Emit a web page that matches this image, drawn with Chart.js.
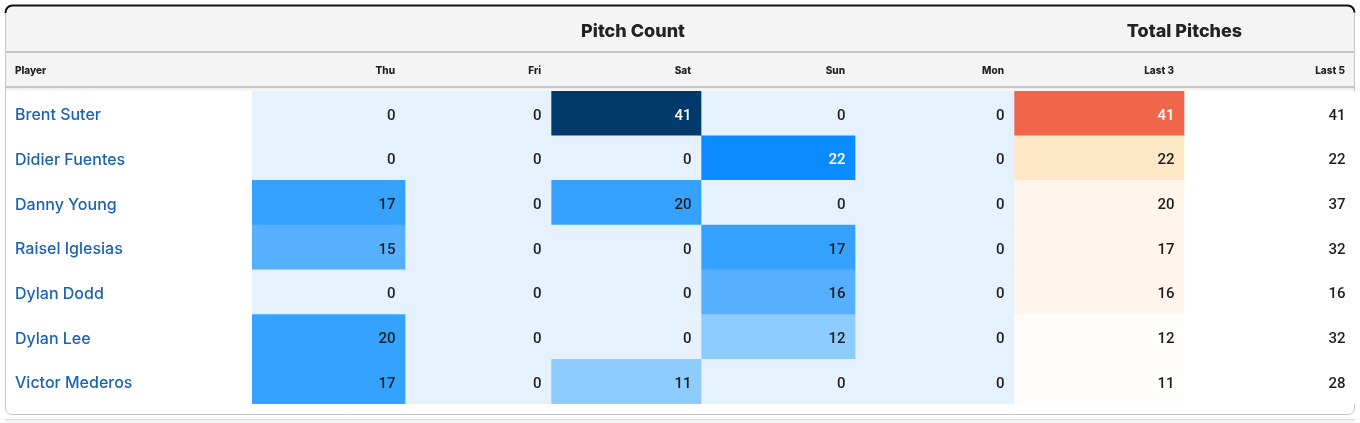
<!DOCTYPE html>
<html><head><meta charset="utf-8">
<script src="https://cdn.jsdelivr.net/npm/chart.js@4.4.1/dist/chart.umd.min.js"></script>
<style>
html,body{margin:0;padding:0;background:#fff;}
#wrap{position:relative;width:1360px;height:423px;}
</style></head><body>
<div id="wrap"><canvas id="c"></canvas></div>
<script>
// ---- data ----
const players = ['Brent Suter','Didier Fuentes','Danny Young','Raisel Iglesias','Dylan Dodd','Dylan Lee','Victor Mederos'];
const columnLabels = ['Thu','Fri','Sat','Sun','Mon','Last 3','Last 5'];
const groupLabels = ['Pitch Count','Total Pitches'];
const thu = [0,0,17,15,0,20,17];
const fri = [0,0,0,0,0,0,0];
const sat = [41,0,20,0,0,0,11];
const sun = [0,22,0,17,16,12,0];
const mon = [0,0,0,0,0,0,0];
const last3 = [41,22,20,17,16,12,11];
const last5 = [41,22,37,32,16,32,28];

// ---- layout / style ----
const COLUMN_EDGES = [252,405,551,701,855,1014,1184,1355];
const GROUP_SPANS = [[0,5],[5,7]];
const NUM_FONT = '"Roboto", sans-serif';
const NAME_FONT = '"Inter", sans-serif';
const HEAD_FONT = '"Inter", sans-serif';

function blueScale(v){
  if (v === 0) return '#e5f1fd';
  if (v <= 12) return '#8ecbff';
  if (v <= 16) return '#56b0ff';
  if (v <= 20) return '#35a2ff';
  if (v <= 30) return '#0a8bff';
  return '#003a6b';
}
function orangeScale(v){
  if (v >= 35) return '#ef664a';
  if (v >= 21) return '#ffe8c8';
  if (v >= 15) return '#fff5ea';
  return '#fffdfa';
}
function plainScale(){ return '#ffffff'; }

const columns = [
  {values: thu, scale: blueScale, dark: v => v >= 21},
  {values: fri, scale: blueScale, dark: v => v >= 21},
  {values: sat, scale: blueScale, dark: v => v >= 21},
  {values: sun, scale: blueScale, dark: v => v >= 21},
  {values: mon, scale: blueScale, dark: v => v >= 21},
  {values: last3, scale: orangeScale, dark: v => v >= 35},
  {values: last5, scale: plainScale, dark: () => false},
];

const datasets = columns.map((col, c) => ({
  label: columnLabels[c],
  data: col.values.map(() => [COLUMN_EDGES[c], COLUMN_EDGES[c+1]]),
  values: col.values,
  backgroundColor: col.values.map(v => col.scale(v)),
  textColors: col.values.map(v => col.dark(v) ? '#ffffff' : '#1e1e1e'),
  borderWidth: 0,
  grouped: false,
  barPercentage: 1,
  categoryPercentage: 1,
}));

const frame = {
  id: 'frame',
  beforeDraw(chart){
    const ctx = chart.ctx;
    ctx.save();
    ctx.fillStyle = '#ffffff';
    ctx.fillRect(0,0,chart.width,chart.height);
    // next block strip
    ctx.fillStyle = '#f3f3f3';
    ctx.fillRect(5,420,1350,3);
    ctx.fillStyle = '#dcdcdc';
    ctx.fillRect(5,419,1350,1);
    // card
    ctx.beginPath();
    ctx.roundRect(5.5,5.5,1349,409,6);
    ctx.fillStyle = '#ffffff';
    ctx.fill();
    ctx.save();
    ctx.clip();
    ctx.fillStyle = '#f4f4f4';
    ctx.fillRect(5,5,1350,82);
    ctx.fillStyle = '#c6c6c6';
    ctx.fillRect(5,51,1350,2);
    ctx.fillRect(5,86,1350,2);
    const g = ctx.createLinearGradient(0,88,0,92);
    g.addColorStop(0,'#ededed'); g.addColorStop(1,'#ffffff');
    ctx.fillStyle = g;
    ctx.fillRect(5,88,1350,3);
    ctx.restore();
    ctx.strokeStyle = '#c8c8c8';
    ctx.lineWidth = 1;
    ctx.stroke();
    // top dark edge
    ctx.beginPath();
    ctx.moveTo(5.5,13);
    ctx.arcTo(5.5,5.5,13,5.5,7);
    ctx.lineTo(1347,5.5);
    ctx.arcTo(1354.5,5.5,1354.5,13,7);
    ctx.strokeStyle = '#111111';
    ctx.lineWidth = 2;
    ctx.stroke();
    // group headers
    ctx.fillStyle = '#222222';
    ctx.textBaseline = 'middle';
    ctx.textAlign = 'center';
    ctx.font = '800 18px ' + HEAD_FONT;
    GROUP_SPANS.forEach((s, i) => {
      const cx = (COLUMN_EDGES[s[0]] + COLUMN_EDGES[s[1]]) / 2;
      ctx.fillText(groupLabels[i], cx, 31.5);
    });
    // column headers
    ctx.font = '800 10px ' + HEAD_FONT;
    ctx.textAlign = 'left';
    ctx.fillText('Player', 15, 71);
    ctx.textAlign = 'right';
    columnLabels.forEach((l, c) => ctx.fillText(l, COLUMN_EDGES[c+1] - 10, 71));
    ctx.restore();
  }
};

const cellText = {
  id: 'cellText',
  afterDatasetsDraw(chart){
    const ctx = chart.ctx;
    ctx.save();
    ctx.font = '500 15px ' + NUM_FONT;
    ctx.textAlign = 'right';
    ctx.textBaseline = 'middle';
    chart.data.datasets.forEach((ds, d) => {
      const meta = chart.getDatasetMeta(d);
      meta.data.forEach((el, i) => {
        ctx.fillStyle = ds.textColors[i];
        ctx.fillText(String(ds.values[i]), el.x - 9.5, el.y + 2.5);
      });
    });
    ctx.restore();
  }
};

new Chart(document.getElementById('c'), {
  type: 'bar',
  data: { labels: players, datasets },
  plugins: [frame, cellText],
  options: {
    indexAxis: 'y',
    responsive: true,
    maintainAspectRatio: false,
    animation: false,
    events: [],
    layout: { padding: { left: 15, top: 91, bottom: 19, right: 0 } },
    plugins: { legend: { display: false }, tooltip: { enabled: false } },
    scales: {
      x: { type: 'linear', min: COLUMN_EDGES[0], max: 1360, display: false },
      y: {
        type: 'category',
        position: 'left',
        grid: { display: false },
        border: { display: false },
        ticks: { color: '#1b62b3', font: { family: NAME_FONT, size: 16, weight: '500' }, crossAlign: 'far', padding: 0, autoSkip: false, labelOffset: 2 },
        afterFit(s){ s.width = COLUMN_EDGES[0] - 15; }
      }
    }
  }
});
</script>
</body></html>
